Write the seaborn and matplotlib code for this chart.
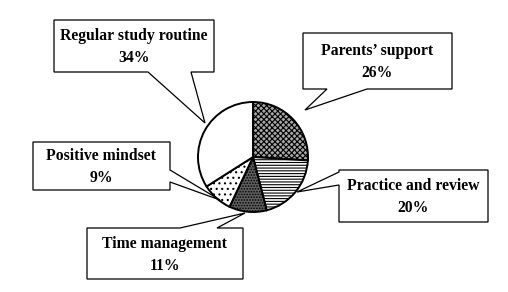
import matplotlib
matplotlib.use("Agg")
import matplotlib.pyplot as plt
from matplotlib.patches import Polygon
import seaborn as sns

sns.set_theme(style="white")
plt.rcParams["font.family"] = ["Liberation Serif", "DejaVu Serif"]
plt.rcParams["hatch.linewidth"] = 0.8

# Data
categories = ["Parents\u2019 support", "Practice and review", "Time management",
              "Positive mindset", "Regular study routine"]
values = [26, 20, 11, 9, 34]

# Styles per slice
face_colors = ["#a8a8a8", "white", "#606060", "white", "white"]
hatches = ["xxxxxx", "------", "......", "...", ""]
hatch_colors = ["#303030", "black", "#404040", "#808080", "black"]

fig = plt.figure(figsize=(5.08, 2.92), dpi=100)
ax = fig.add_axes([0, 0, 1, 1])

wedges, _ = ax.pie(values, center=(253, 157), radius=55, startangle=-90,
                   counterclock=True, frame=True,
                   wedgeprops=dict(edgecolor="black", linewidth=1.4))
for w, fc, h, hc in zip(wedges, face_colors, hatches, hatch_colors):
    w.set_facecolor(fc)
    w.set_hatch(h)
    if hasattr(w, "set_hatch_color"):
        w.set_hatch_color(hc)
    w.set_edgecolor("black")

ax.set_xlim(0, 508)
ax.set_ylim(292, 0)
ax.set_axis_off()

# Callout layouts: (left, top, right, bottom, side, base1, base2, tip)
callouts = {
    "Parents\u2019 support": (303, 33, 452, 89, "bottom", 327, 367, (305, 110)),
    "Practice and review": (339, 170, 488, 222, "left", 172, 185, (297, 192)),
    "Time management": (87, 228, 243, 279, "top", 180, 217, (245, 213)),
    "Positive mindset": (33, 142, 170, 190, "right", 170, 182, (220, 200)),
    "Regular study routine": (54, 20, 214, 72, "bottom", 148, 191, (205, 123)),
}

for cat, val in zip(categories, values):
    L, T, R, B, side, b1, b2, tip = callouts[cat]
    if side == "bottom":
        pts = [(L, T), (R, T), (R, B), (b2, B), tip, (b1, B), (L, B)]
    elif side == "top":
        pts = [(L, T), (b1, T), tip, (b2, T), (R, T), (R, B), (L, B)]
    elif side == "right":
        pts = [(L, T), (R, T), (R, b1), tip, (R, b2), (R, B), (L, B)]
    else:
        pts = [(L, T), (R, T), (R, B), (L, B), (L, b2), tip, (L, b1)]
    ax.add_patch(Polygon(pts, closed=True, facecolor="white", edgecolor="black",
                         linewidth=0.9, zorder=5))
    ax.text((L + R) / 2, (T + B) / 2 + 1, f"{cat}\n{val}%", ha="center", va="center",
            fontsize=11.3, fontweight="bold", linespacing=1.5, zorder=6,
            color="black")

fig.savefig("out.png", dpi=100)
